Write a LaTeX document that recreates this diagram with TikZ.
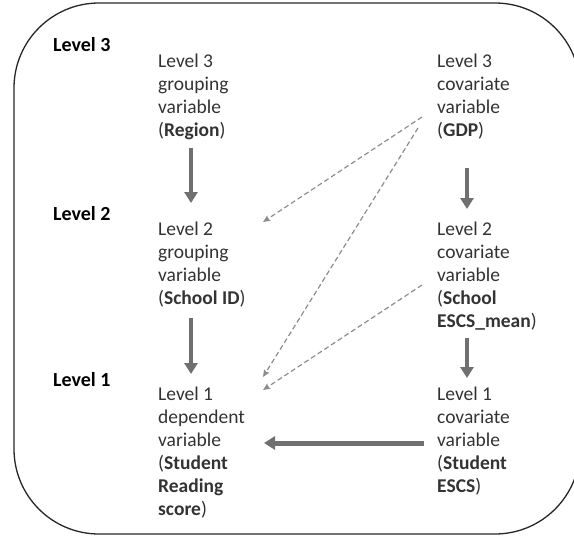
\documentclass[tikz,border=0pt]{standalone}
\usepackage{fontspec}
\setmainfont{Carlito}
\usetikzlibrary{arrows.meta}
\definecolor{txt}{HTML}{333333}
\definecolor{arr}{HTML}{707070}
\definecolor{dsh}{HTML}{8C8C8C}
\tikzset{
  lvl/.style={anchor=base west, inner sep=0pt, font=\fontsize{20}{24}\selectfont\bfseries, text=black},
  blk/.style={anchor=base west, inner sep=0pt, text=txt},
  thick arrow/.style={draw=arr, line width=4.6pt, -{Triangle[width=13pt,length=11pt]}, fill=arr},
  dash arrow/.style={draw=dsh, line width=1.2pt, dash pattern=on 5pt off 3pt, -{Stealth[length=7pt,width=6pt,inset=1pt]}},
  frame/.style={draw=black!85, line width=1.3pt}
}
\newcommand{\blocktext}[1]{\fontsize{19.5}{23}\selectfont\begin{tabular}[t]{@{}l@{}}#1\end{tabular}}
\begin{document}
\begin{tikzpicture}[x=1pt,y=-1pt]
\useasboundingbox (0,0) rectangle (574,538);
\begin{scope}
  \clip (0,0) rectangle (574,538);
  \draw[frame] (99,3) -- (495,3) arc[start angle=-90, end angle=0, radius=85]
     -- (580,449) arc[start angle=0, end angle=90, radius=85]
     -- (99,534) arc[start angle=90, end angle=180, radius=85]
     -- (14,88) arc[start angle=180, end angle=270, radius=85] -- cycle;
\end{scope}

% level labels
\node[lvl] (lab3) at (53,51) {Level 3};
\node[lvl] (lab2) at (53,220) {Level 2};
\node[lvl] (lab1) at (53,386) {Level 1};

% blocks
\node[blk] (grp3) at (158,67) {\blocktext{Level 3\\grouping\\variable\\(\textbf{Region})}};
\node[blk] (grp2) at (158,235) {\blocktext{Level 2\\grouping\\variable\\(\textbf{School ID})}};
\node[blk] (dep1) at (158,400) {\blocktext{Level 1\\dependent\\variable\\(\textbf{Student}\\\textbf{Reading}\\\textbf{score})}};
\node[blk] (cov3) at (437,67) {\blocktext{Level 3\\covariate\\variable\\(\textbf{GDP})}};
\node[blk] (cov2) at (437,235) {\blocktext{Level 2\\covariate\\variable\\(\textbf{School}\\\textbf{ESCS\_mean})}};
\node[blk] (cov1) at (437,400) {\blocktext{Level 1\\covariate\\variable\\(\textbf{Student}\\\textbf{ESCS})}};

% connector end points
\coordinate (g3b) at (191,148);
\coordinate (g2t) at (191,203);
\coordinate (g2b) at (191,318);
\coordinate (d1t) at (191,374);
\coordinate (c3b) at (467,168);
\coordinate (c2t) at (467,209);
\coordinate (c2b) at (467,338);
\coordinate (c1t) at (467,378);
\coordinate (c1w) at (424,443);
\coordinate (d1e) at (264,443);
\coordinate (c3wa) at (422,117);
\coordinate (c3wb) at (418,128);
\coordinate (c2w) at (422,285);
\coordinate (g2e) at (263,222);
\coordinate (d1ea) at (263,377);
\coordinate (d1eb) at (263,390);

% solid arrows
\draw[thick arrow] (g3b) -- (g2t);
\draw[thick arrow] (g2b) -- (d1t);
\draw[thick arrow, line width=4pt] (c3b) -- (c2t);
\draw[thick arrow, line width=4pt] (c2b) -- (c1t);
\draw[thick arrow, line width=5pt] (c1w) -- (d1e);

% dashed arrows
\draw[dash arrow] (c3wa) -- (g2e);
\draw[dash arrow] (c3wb) -- (d1ea);
\draw[dash arrow] (c2w) -- (d1eb);
\end{tikzpicture}
\end{document}
